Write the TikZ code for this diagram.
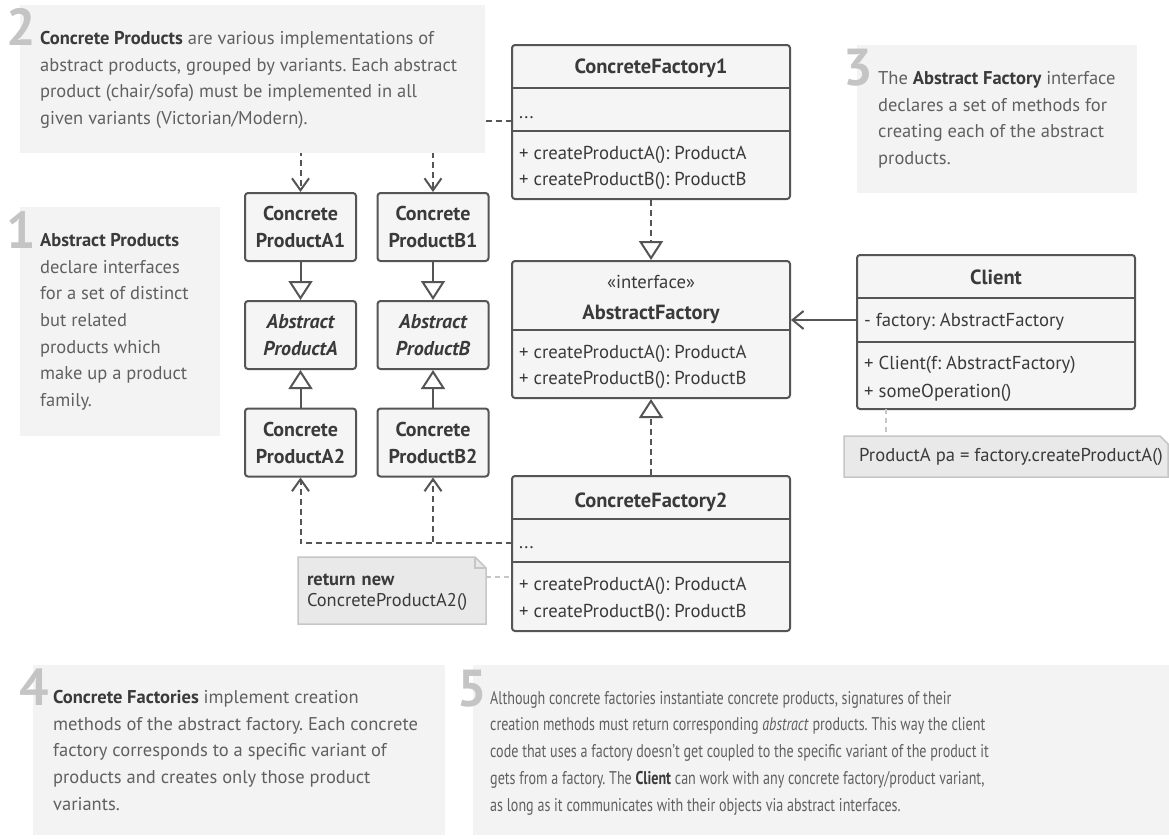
\documentclass[tikz,border=0pt]{standalone}
\usepackage{fontspec}
\setmainfont{PT Sans}
\newfontfamily\narrowfont[FakeStretch=0.765]{PT Sans}
\usetikzlibrary{arrows.meta,calc}

\definecolor{boxfill}{HTML}{F5F5F5}
\definecolor{boxline}{HTML}{555555}
\definecolor{ink}{HTML}{3A3A3A}
\definecolor{calloutfill}{HTML}{F3F3F3}
\definecolor{callouttext}{HTML}{606060}
\definecolor{calloutbold}{HTML}{3A3A3A}
\definecolor{numgray}{HTML}{C4C4C4}
\definecolor{notefill}{HTML}{E9E9E9}
\definecolor{noteline}{HTML}{C6C6C6}

\newcommand{\hl}[1]{{\bfseries\color{calloutbold}#1}}
\frenchspacing

\tikzset{
  cls/.style={draw=boxline, fill=boxfill, line width=2pt, rounded corners=3pt,
    inner sep=0pt, text=ink},
  prodbox/.style={cls, minimum width=111pt, minimum height=68pt, align=center,
    font=\fontsize{20}{27}\selectfont\bfseries},
  divider/.style={draw=boxline, line width=2pt},
  member/.style={anchor=base west, inner sep=0pt, text=ink, font=\fontsize{18.7}{22}\selectfont},
  title/.style={anchor=base, inner sep=0pt, text=ink, font=\fontsize{20.5}{24}\selectfont\bfseries},
  inherit/.style={draw=boxline, line width=2pt, -{Triangle[open, length=19pt, width=24pt]}},
  realize/.style={inherit, dash pattern=on 6pt off 4pt},
  dep/.style={draw=boxline, line width=2pt, dash pattern=on 6pt off 4pt,
    -{Straight Barb[length=12pt, width=17pt]}},
  assoc/.style={draw=boxline, line width=2pt, -{Straight Barb[length=11pt, width=18pt]}},
  notelink/.style={draw=noteline, line width=1.5pt, dash pattern=on 5pt off 4pt},
  notefold/.style={draw=noteline, fill=notefill, line width=1.5pt},
  callout/.style={fill=calloutfill},
  callouttxt/.style={anchor=north west, inner sep=0pt, align=left, text=callouttext,
    font=\fontsize{18.5}{26.7}\selectfont},
  bignum/.style={anchor=base east, inner sep=0pt, text=numgray,
    font=\fontsize{52}{52}\selectfont\bfseries},
}

\begin{document}
\begin{tikzpicture}[x=1pt, y=-1pt]
\useasboundingbox[fill=white] (0,0) rectangle (1169,838);

% ---------- product hierarchy ----------
\node[prodbox] (A1) at (300.5,227) {Concrete\\ProductA1};
\node[prodbox] (B1) at (433,227) {Concrete\\ProductB1};
\node[prodbox, font=\fontsize{20}{27}\selectfont\bfseries\itshape] (AbsA) at (300.5,335) {Abstract\\ProductA};
\node[prodbox, font=\fontsize{20}{27}\selectfont\bfseries\itshape] (AbsB) at (433,335) {Abstract\\ProductB};
\node[prodbox] (A2) at (300.5,442.5) {Concrete\\ProductA2};
\node[prodbox] (B2) at (433,442.5) {Concrete\\ProductB2};

\draw[inherit] (A1.south) -- (AbsA.north);
\draw[inherit] (B1.south) -- (AbsB.north);
\draw[inherit] (A2.north) -- (AbsA.south);
\draw[inherit] (B2.north) -- (AbsB.south);

% ---------- ConcreteFactory1 ----------
\node[cls, minimum width=278pt, minimum height=154pt] (cf1) at (651,122) {};
\draw[divider] (512,88) -- (790,88);
\draw[divider] (512,131) -- (790,131);
\node[title] at (651,73) {ConcreteFactory1};
\node[member] at (519,118) {...};
\node[member] at (519,159) {+ createProductA(): ProductA};
\node[member] at (519,185.5) {+ createProductB(): ProductB};

% ---------- AbstractFactory ----------
\node[cls, minimum width=278pt, minimum height=137pt] (af) at (651,329.5) {};
\draw[divider] (512,330) -- (790,330);
\node[member, anchor=base] at (651,288.5) {«interface»};
\node[title] at (651,319) {AbstractFactory};
\node[member] at (519,358) {+ createProductA(): ProductA};
\node[member] at (519,384.5) {+ createProductB(): ProductB};

% ---------- ConcreteFactory2 ----------
\node[cls, minimum width=278pt, minimum height=155pt] (cf2) at (651,553.5) {};
\draw[divider] (512,519) -- (790,519);
\draw[divider] (512,562) -- (790,562);
\node[title] at (651,507) {ConcreteFactory2};
\node[member] at (519,548) {...};
\node[member] at (519,590) {+ createProductA(): ProductA};
\node[member] at (519,617) {+ createProductB(): ProductB};

% ---------- Client ----------
\node[cls, minimum width=278pt, minimum height=154pt] (client) at (996,332) {};
\draw[divider] (857,298) -- (1135,298);
\draw[divider] (857,342) -- (1135,342);
\node[title] at (996,284) {Client};
\node[member] at (864,326) {- factory: AbstractFactory};
\node[member] at (864,369) {+ Client(f: AbstractFactory)};
\node[member] at (864,397) {+ someOperation()};

% ---------- relations between factories ----------
\draw[realize] (cf1.south) -- (af.north);
\draw[realize] (cf2.north) -- (af.south);
\coordinate (clientport) at (857,320);
\draw[assoc] (clientport) -- (clientport -| af.east);

% factories create the concrete products
\coordinate (cf1port) at (512,121);
\draw[dep] (cf1port) -| (A1.north);
\draw[dep] (cf1port) -| (B1.north);
\coordinate (cf2port) at (512,543);
\draw[dep] (cf2port) -| (A2.south);
\draw[dep] (cf2port) -| (B2.south);

% ---------- notes ----------
\draw[notefold] (298,557) -- (475,557) -- (486,568) -- (486,624) -- (298,624) -- cycle;
\draw[noteline, line width=1.5pt] (475,557) -- (475,568) -- (486,568);
\node[inner sep=0pt, minimum width=188pt, minimum height=67pt, text width=172pt,
  align=left, text=ink, font=\fontsize{18.4}{21}\selectfont] (retnote) at (393,592)
  {\textbf{return new}\\ConcreteProductA2()};
\coordinate (retport) at (486,577);
\draw[notelink] (retport) -- (retport -| cf2.west);

\draw[notefold] (844,436) -- (1160,436) -- (1168,444) -- (1168,477) -- (844,477) -- cycle;
\node[inner sep=0pt, anchor=base west, text=ink, font=\fontsize{18.6}{20}\selectfont]
  (clientnote) at (859,461) {ProductA pa = factory.createProductA()};
\coordinate (clientlink) at (886,409);
\draw[notelink] (clientlink) -- (886,436);

% ---------- callouts ----------
\fill[callout] (20,5) rectangle (485,153);
\node[bignum] (n2) at (36,45) {2};
\node[callouttxt] (c2) at (40,31) {\hl{Concrete Products} are various implementations of\\
  abstract products, grouped by variants. Each abstract\\
  product (chair/sofa) must be implemented in all\\
  given variants (Victorian/Modern).};

\fill[callout] (20,207) rectangle (220,436);
\node[bignum] (n1) at (36,248) {1};
\node[callouttxt] (c1) at (40,233) {\hl{Abstract Products}\\declare interfaces\\for a set of distinct\\
  but related\\products which\\make up a product\\family.};

\fill[callout] (857,45) rectangle (1137,193);
\node[bignum] (n3) at (873,85) {3};
\node[callouttxt] (c3) at (878,71) {The \hl{Abstract Factory} interface\\declares a set of methods for\\
  creating each of the abstract\\products.};

\fill[callout] (33,665) rectangle (445,835);
\node[bignum] (n4) at (49,705) {4};
\node[callouttxt] (c4) at (53,690) {\hl{Concrete Factories} implement creation\\
  methods of the abstract factory. Each concrete\\
  factory corresponds to a specific variant of\\
  products and creates only those product\\
  variants.};

\fill[callout] (473,665) rectangle (1169,835);
\node[bignum] (n5) at (487,706) {5};
\node[callouttxt, font=\fontsize{18.4}{26.7}\selectfont\narrowfont] (c5) at (490,691)
  {Although concrete factories instantiate concrete products, signatures of their\\
  creation methods must return corresponding \textit{abstract} products. This way the client\\
  code that uses a factory doesn’t get coupled to the specific variant of the product it\\
  gets from a factory. The \hl{Client} can work with any concrete factory/product variant,\\
  as long as it communicates with their objects via abstract interfaces.};
\end{tikzpicture}
\end{document}
